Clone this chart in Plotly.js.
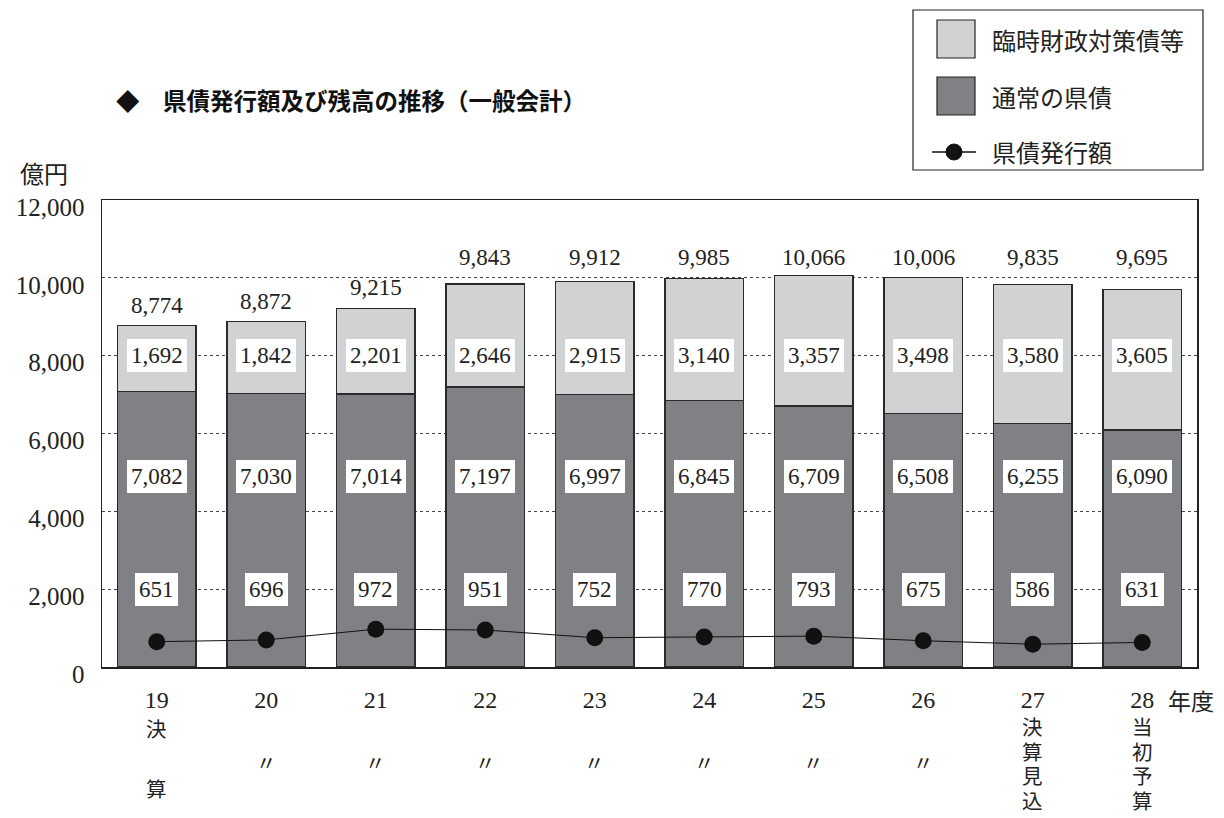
<!DOCTYPE html>
<html>
<head>
<meta charset="utf-8">
<script src="https://cdn.plot.ly/plotly-3.0.1.min.js"></script>
<style>html,body{margin:0;padding:0;background:#fff;}#chart{width:1224px;height:818px;}</style>
</head>
<body>
<div id="chart"></div>
<script>
// ---- data ----
const categories = ["19","20","21","22","23","24","25","26","27","28"];
const yearLabels = ["19","20","21","22","23","24","25","26","27","28"];
const yearSuffix = ["決算","〃","〃","〃","〃","〃","〃","〃","決算見込","当初予算"];
const rinji = [1692,1842,2201,2646,2915,3140,3357,3498,3580,3605];      // 臨時財政対策債等
const tsujo = [7082,7030,7014,7197,6997,6845,6709,6508,6255,6090];      // 通常の県債
const totals = [8774,8872,9215,9843,9912,9985,10066,10006,9835,9695];   // 残高計
const issuance = [651,696,972,951,752,770,793,675,586,631];            // 県債発行額

// ---- layout helpers (pixel -> paper) ----
const L = 102, R = 1197, T = 200, B = 667;
const px = v => (v - L) / (R - L);
const py = v => (B - v) / (B - T);

const SERIF = "Liberation Serif, DejaVu Serif, serif";
const SANS = "Noto Sans CJK JP, Noto Sans, sans-serif";
const LIGHT = "#d1d2d4", DARK = "#808185";

const traces = [
  {type:"bar", name:"通常の県債", x:categories, y:tsujo,
   marker:{color:DARK, line:{color:"#2a2a2a", width:1.5}}, showlegend:false, hoverinfo:"skip"},
  {type:"bar", name:"臨時財政対策債等", x:categories, y:rinji,
   marker:{color:LIGHT, line:{color:"#2a2a2a", width:1.5}}, showlegend:false, hoverinfo:"skip"},
  {type:"scatter", mode:"lines+markers", name:"県債発行額", x:categories, y:issuance,
   line:{color:"#111", width:1}, marker:{color:"#111", size:17}, showlegend:false, hoverinfo:"skip"}
];

const fmt = n => n.toLocaleString("en-US");
const annotations = [];
const boxLabel = (x, y, t) => ({x:x, y:y, xref:"x", yref:"y", text:t, showarrow:false,
  bgcolor:"#fff", bordercolor:"#fff", borderwidth:0, borderpad:4, font:{family:SERIF, size:23, color:"#222"}});

categories.forEach((c, i) => {
  // totals sit just above short bars; above the 10,000 gridline for the tall ones
  const ty = totals[i] < 9500 ? totals[i] : 10000;
  annotations.push({x:i, y:ty, xref:"x", yref:"y", yanchor:"bottom", yshift:6,
    text:fmt(totals[i]), showarrow:false, font:{family:SERIF, size:23, color:"#222"}});
  annotations.push(boxLabel(i, 8000, fmt(rinji[i])));
  annotations.push(boxLabel(i, 4900, fmt(tsujo[i])));
  annotations.push(boxLabel(i, 2000, fmt(issuance[i])));
  const s = Array.from(yearSuffix[i]);
  let ys;
  if (s.length === 1) ys = [762];
  else if (s.length === 2) ys = [728, 788];
  else ys = s.map((_, k) => 726 + 24.5 * k);
  s.forEach((ch, k) => {
    annotations.push({x:i, xref:"x", y:py(ys[k]), yref:"paper", yanchor:"middle", text:ch, showarrow:false,
      font:{family:SANS, size:20.5, color:"#222"}});
  });
});

annotations.push({x:px(1166), y:py(700), xref:"paper", yref:"paper", xanchor:"left", yanchor:"middle",
  text:"年度", showarrow:false, font:{family:SANS, size:23, color:"#222"}});
annotations.push({x:px(18), y:py(172), xref:"paper", yref:"paper", xanchor:"left", yanchor:"middle",
  text:"億円", showarrow:false, font:{family:SANS, size:24, color:"#222"}});
annotations.push({x:px(114), y:py(100), xref:"paper", yref:"paper", xanchor:"left", yanchor:"middle",
  text:"<b>◆　県債発行額及び残高の推移（一般会計）</b>", showarrow:false, font:{family:SANS, size:23.5, color:"#111"}});

// legend (drawn manually)
const legendItems = [
  {label:"臨時財政対策債等", kind:"box", color:LIGHT, y:39},
  {label:"通常の県債", kind:"box", color:DARK, y:96},
  {label:"県債発行額", kind:"line", y:152}
];
const shapes = [
  {type:"rect", xref:"paper", yref:"paper", x0:px(913), x1:px(1203), y0:py(10), y1:py(170),
   line:{color:"#222", width:1.2}, fillcolor:"#fff", layer:"above"}
];
legendItems.forEach(it => {
  if (it.kind === "box") {
    shapes.push({type:"rect", xref:"paper", yref:"paper", x0:px(937), x1:px(975), y0:py(it.y-19), y1:py(it.y+19),
      line:{color:"#222", width:1.2}, fillcolor:it.color, layer:"above"});
  } else {
    shapes.push({type:"line", xref:"paper", yref:"paper", x0:px(932), x1:px(976), y0:py(it.y), y1:py(it.y),
      line:{color:"#111", width:1.5}, layer:"above"});
    shapes.push({type:"circle", xref:"paper", yref:"paper", x0:px(946), x1:px(962), y0:py(it.y-8), y1:py(it.y+8),
      line:{color:"#111", width:1}, fillcolor:"#111", layer:"above"});
  }
  annotations.push({x:px(990), y:py(it.y), xref:"paper", yref:"paper", xanchor:"left", yanchor:"middle",
    text:it.label, showarrow:false, font:{family:SANS, size:24, color:"#222"}});
});

const layout = {
  width:1224, height:818,
  margin:{l:L, r:1224-R, t:T, b:818-B, pad:0},
  paper_bgcolor:"#fff", plot_bgcolor:"#fff",
  barmode:"stack", bargap:0.283,
  showlegend:false,
  xaxis:{type:"category", range:[-0.5, 9.5], autorange:false, tickvals:categories, ticktext:yearLabels, showgrid:false,
    showline:true, mirror:true, linecolor:"#222", linewidth:1.5, ticks:"", ticklabelstandoff:11,
    tickfont:{family:SERIF, size:24, color:"#222"}, fixedrange:true},
  yaxis:{range:[0,12000], autorange:false, tickvals:[0,2000,4000,6000,8000,10000,12000],
    ticktext:["0","2,000","4,000","6,000","8,000","10,000","12,000"],
    showgrid:true, gridcolor:"#444", griddash:"dot", gridwidth:1, zeroline:false,
    showline:true, mirror:true, linecolor:"#222", linewidth:1.5, ticks:"",
    ticklabelstandoff:11, ticklabelshift:7,
    tickfont:{family:SERIF, size:25, color:"#222"}, fixedrange:true},
  annotations:annotations,
  shapes:shapes
};

Plotly.newPlot("chart", traces, layout, {displayModeBar:false, staticPlot:true});
</script>
</body>
</html>
